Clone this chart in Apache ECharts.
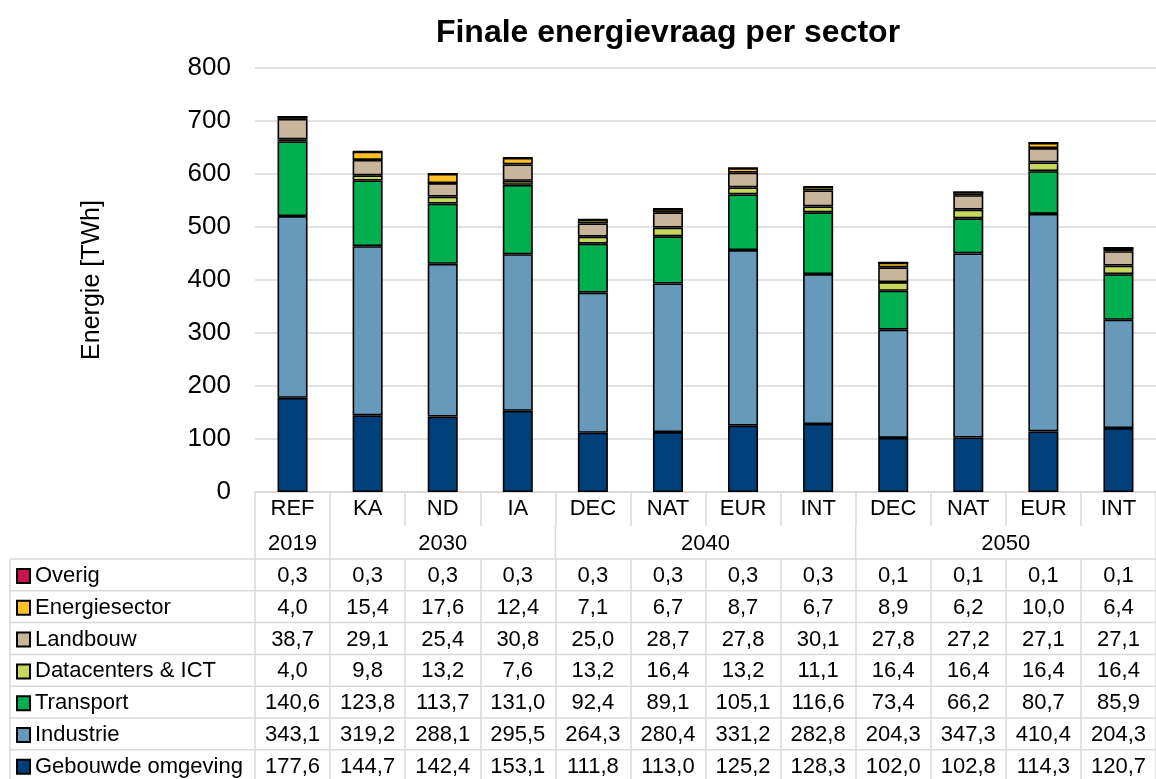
<!DOCTYPE html>
<html>
<head>
<meta charset="utf-8">
<script src="https://cdn.jsdelivr.net/npm/echarts@6/dist/echarts.min.js"></script>
<style>
html,body{margin:0;padding:0;background:#fff;}
#c{width:1156px;height:779px;}
</style>
</head>
<body>
<div id="c"></div>
<script>
// ---------- DATA ----------
const categories = ['REF','KA','ND','IA','DEC','NAT','EUR','INT','DEC','NAT','EUR','INT'];
const yearLabels = ['2019','2030','2040','2050'];
const yearSpans  = [1, 3, 4, 4];

const gebouwd       = [177.6,144.7,142.4,153.1,111.8,113.0,125.2,128.3,102.0,102.8,114.3,120.7];
const industrie     = [343.1,319.2,288.1,295.5,264.3,280.4,331.2,282.8,204.3,347.3,410.4,204.3];
const transport     = [140.6,123.8,113.7,131.0,92.4,89.1,105.1,116.6,73.4,66.2,80.7,85.9];
const datacenters   = [4.0,9.8,13.2,7.6,13.2,16.4,13.2,11.1,16.4,16.4,16.4,16.4];
const landbouw      = [38.7,29.1,25.4,30.8,25.0,28.7,27.8,30.1,27.8,27.2,27.1,27.1];
const energiesector = [4.0,15.4,17.6,12.4,7.1,6.7,8.7,6.7,8.9,6.2,10.0,6.4];
const overig        = [0.3,0.3,0.3,0.3,0.3,0.3,0.3,0.3,0.1,0.1,0.1,0.1];

const yTicks = [0,100,200,300,400,500,600,700,800];

// stack order bottom -> top
const seriesDefs = [
  {name:'Gebouwde omgeving', data:gebouwd,       color:'#00407A'},
  {name:'Industrie',         data:industrie,     color:'#6699BA'},
  {name:'Transport',         data:transport,     color:'#00B050'},
  {name:'Datacenters & ICT', data:datacenters,   color:'#C6D75C'},
  {name:'Landbouw',          data:landbouw,      color:'#C9B59B'},
  {name:'Energiesector',     data:energiesector, color:'#FFC125'},
  {name:'Overig',            data:overig,        color:'#C8124F'}
];
// table order top -> bottom
const tableOrder = seriesDefs.slice().reverse();

// ---------- LAYOUT ----------
const FONT = 'Liberation Sans, Arial, sans-serif';
const GRID_LEFT = 255, GRID_TOP = 68, GRID_BOTTOM = 287;
const AXIS_Y = 779 - GRID_BOTTOM;   // 492
const NAME_ROW_H = 34;
const YEAR_ROW_H = 33;
const TABLE_TOP = AXIS_Y + NAME_ROW_H + YEAR_ROW_H; // 559
const ROW_H = 31.8;
const LINE_C = '#D9D9D9';
const LINE_W = 1.5;

const fmt = v => v.toFixed(1).replace('.', ',');

const xAxes = [{
  type:'category', gridIndex:0, data:categories, position:'bottom',
  axisLine:{show:true, lineStyle:{color:LINE_C, width:LINE_W}},
  axisTick:{show:true, interval:0, length:NAME_ROW_H, lineStyle:{color:LINE_C, width:LINE_W}},
  axisLabel:{interval:0, fontSize:22, color:'#000', fontFamily:FONT, margin:6}
}];
tableOrder.forEach((s, i) => {
  xAxes.push({
    type:'category', gridIndex:0, position:'bottom',
    offset: TABLE_TOP - AXIS_Y + i*ROW_H,
    data: s.data.map(fmt),
    axisLine:{show:false},
    axisTick:{show:true, interval:0, length:ROW_H, lineStyle:{color:LINE_C, width:LINE_W}},
    axisLabel:{interval:0, fontSize:22, color:'#000', fontFamily:FONT, margin:6},
    splitLine:{show:false}
  });
});

const chart = echarts.init(document.getElementById('c'), null, {renderer:'canvas'});
const option = {
  backgroundColor:'#fff',
  animation:false,
  title:{
    text:'Finale energievraag per sector',
    left:663, top:12, textAlign:'center',
    textStyle:{fontSize:32, fontWeight:'bold', color:'#000', fontFamily:FONT}
  },
  legend:{
    orient:'vertical', left:16, top:TABLE_TOP + 6, padding:0,
    itemWidth:13, itemHeight:14, itemGap:ROW_H - 22,
    icon:'rect',
    data: tableOrder.map(s => s.name),
    textStyle:{fontSize:22, lineHeight:22, color:'#000', fontFamily:FONT},
    selectedMode:false
  },
  grid:{left:GRID_LEFT, right:-8, top:GRID_TOP, bottom:GRID_BOTTOM, containLabel:false},
  xAxis: xAxes,
  yAxis:{
    type:'value', min:yTicks[0], max:yTicks[yTicks.length-1], interval:100,
    name:'Energie [TWh]', nameLocation:'middle', nameRotate:90, nameGap:150,
    nameTextStyle:{fontSize:25, color:'#000', fontFamily:FONT},
    axisLine:{show:false}, axisTick:{show:false},
    axisLabel:{fontSize:26, color:'#000', fontFamily:FONT, margin:24},
    splitLine:{show:true, lineStyle:{color:LINE_C, width:LINE_W}}
  },
  series: seriesDefs.map(s => ({
    name:s.name, type:'bar', stack:'total', xAxisIndex:0, yAxisIndex:0,
    data:s.data, barWidth:'40%',
    itemStyle:{color:s.color, borderColor:'#000', borderWidth:1.6},
    emphasis:{disabled:true}
  }))
};
chart.setOption(option);

// ---------- table decorations (positions from the category axis) ----------
const cx = i => chart.convertToPixel({xAxisIndex:0}, i);
const bandW = cx(1) - cx(0);
const boundary = k => cx(0) - bandW/2 + k*bandW;
const graphics = [];
const line = (x1,y1,x2,y2) => graphics.push({type:'line', silent:true,
  shape:{x1,y1,x2,y2}, style:{stroke:LINE_C, lineWidth:LINE_W}});

// horizontal table lines
for (let i = 0; i <= tableOrder.length; i++) {
  const y = TABLE_TOP + i*ROW_H;
  line(10, y, 1156, y);
}
// left border of legend column
line(10, TABLE_TOP, 10, 779);
// year row: group boundaries & labels
let start = 0;
yearLabels.forEach((lab, g) => {
  const end = start + yearSpans[g] - 1;
  line(boundary(start), AXIS_Y + NAME_ROW_H, boundary(start), TABLE_TOP);
  const xc = (cx(start) + cx(end)) / 2;
  graphics.push({type:'text', silent:true, x:xc, y:AXIS_Y + NAME_ROW_H + YEAR_ROW_H/2 + 1,
    style:{text:lab, fontSize:22, fill:'#000', fontFamily:FONT, align:'center', verticalAlign:'middle'}});
  start = end + 1;
});
line(boundary(start), AXIS_Y + NAME_ROW_H, boundary(start), TABLE_TOP);

chart.setOption({graphic: graphics});
</script>
</body>
</html>
